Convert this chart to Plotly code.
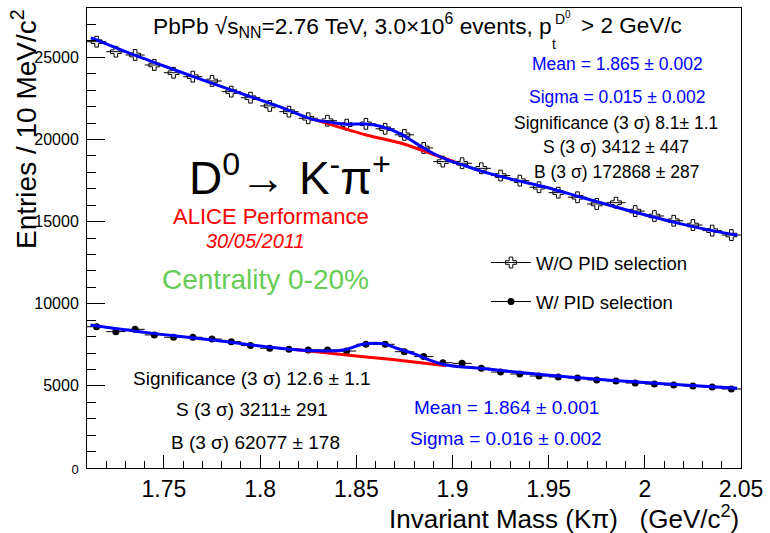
import plotly.graph_objects as go

# ---------------- data ----------------
bin_centers = [round(1.715 + 0.01 * i, 3) for i in range(34)]
half_bin = [0.005] * 34

wo_pid = [25950, 25340, 25140, 24530, 24060, 23820, 23560, 22910, 22540, 22040,
          21690, 21290, 21140, 20900, 20950, 20650, 20280, 19480, 18650, 18550,
          18240, 17800, 17490, 17090, 16760, 16480, 16070, 16150, 15640, 15340,
          15050, 14790, 14450, 14180]

w_pid = [8600, 8300, 8440, 8100, 7960, 7960, 7850, 7690, 7450, 7290,
         7230, 7180, 7180, 7120, 7530, 7530, 7080, 6780, 6410, 6370,
         6070, 5840, 5720, 5600, 5540, 5480, 5360, 5300, 5170, 5110,
         5050, 4990, 4930, 4810]

fit_top_x = [1.712, 1.73, 1.75, 1.77, 1.79, 1.81, 1.8275, 1.838, 1.845, 1.855, 1.862,
             1.8725, 1.8811, 1.8898, 1.8984, 1.907, 1.914, 1.931, 1.9486, 1.966,
             1.983, 2.0004, 2.0177, 2.035, 2.048]
fit_top_y = [26200, 25350, 24470, 23620, 22800, 22000, 21220, 21020, 20930, 20940, 20820,
             20370, 19760, 19160, 18710, 18380, 18100, 17570, 17090, 16510,
             15950, 15400, 14890, 14450, 14180]
bkg_top_x = [1.828, 1.8552, 1.8725, 1.8898, 1.902]
bkg_top_y = [21220, 20270, 19800, 19100, 18600]

fit_bot_x = [1.7118, 1.741, 1.7757, 1.8103, 1.8275, 1.8431, 1.8535, 1.864, 1.8708,
             1.8794, 1.8881, 1.8967, 1.914, 1.95, 2.0, 2.048]
fit_bot_y = [8700, 8240, 7790, 7290, 7140, 7180, 7530, 7560, 7290,
             6980, 6570, 6270, 6070, 5650, 5200, 4850]
bkg_bot_x = [1.817, 1.845, 1.862, 1.879, 1.8967]
bkg_bot_y = [7230, 6880, 6680, 6470, 6230]

x_range = [1.71, 2.05]
y_range = [0, 28000]
y_tickvals = [0, 5000, 10000, 15000, 20000, 25000]
y_ticktext = ['<span style="font-size:13px">0</span>', "5000", "10000", "15000", "20000", "25000"]

# ---------------- figure ----------------
W, H = 770, 533
L, R, T, B = 87, 29, 8, 65
PW, PH = W - L - R, H - T - B


def px(x):
    return (x - L) / PW


def py(y):
    return (H - B - y) / PH


FONT = "Liberation Sans, Arial, Helvetica, sans-serif"

fig = go.Figure()

fig.add_trace(go.Scatter(
    x=bin_centers, y=wo_pid, mode="markers", name="W/O PID selection",
    marker=dict(symbol="cross-open", size=9, color="black",
                line=dict(color="black", width=1)),
    error_x=dict(type="data", array=half_bin, color="black", thickness=1, width=0),
    showlegend=False))

fig.add_trace(go.Scatter(
    x=bin_centers, y=w_pid, mode="markers", name="W/ PID selection",
    marker=dict(symbol="circle", size=7, color="black"),
    error_x=dict(type="data", array=half_bin, color="black", thickness=1, width=0),
    showlegend=False))

fig.add_trace(go.Scatter(x=bkg_top_x, y=bkg_top_y, mode="lines", line=dict(color="red", width=3, shape="spline"), showlegend=False))
fig.add_trace(go.Scatter(x=fit_top_x, y=fit_top_y, mode="lines", line=dict(color="blue", width=3, shape="spline"), showlegend=False))
fig.add_trace(go.Scatter(x=bkg_bot_x, y=bkg_bot_y, mode="lines", line=dict(color="red", width=3, shape="spline"), showlegend=False))
fig.add_trace(go.Scatter(x=fit_bot_x, y=fit_bot_y, mode="lines", line=dict(color="blue", width=3, shape="spline"), showlegend=False))

# legend proxies
fig.add_trace(go.Scatter(x=[None], y=[None], mode="lines+markers", name="W/O PID selection",
                         marker=dict(symbol="cross-open", size=9, color="black", line=dict(color="black", width=1)),
                         line=dict(color="black", width=1), legend="legend"))
fig.add_trace(go.Scatter(x=[None], y=[None], mode="lines+markers", name="W/ PID selection",
                         marker=dict(symbol="circle", size=7, color="black"),
                         line=dict(color="black", width=1), legend="legend2"))

ann = []


def text(t, x, y, size, color="black", xanchor="center", yanchor="middle", angle=0, italic=False):
    ann.append(dict(text=t, x=px(x), y=py(y), xref="paper", yref="paper",
                    xanchor=xanchor, yanchor=yanchor, showarrow=False, textangle=angle,
                    borderpad=0,
                    font=dict(family=FONT, size=size, color=color,
                              style="italic" if italic else "normal")))


# title pieces (p_t^{D^0} stacked like ROOT)
text("PbPb √s<sub>NN</sub>=2.76 TeV, 3.0×10<sup>6</sup> events, p", 152, 25, 22.7, xanchor="left")
text("t", 551, 44, 14, xanchor="left")
text("D", 554, 19, 14, xanchor="left")
text("0", 564, 14, 10, xanchor="left")
text("> 2 GeV/c", 683, 25, 22.5, xanchor="right")

text("Mean = 1.865 ± 0.002", 617, 64, 17.5, color="blue")
text("Sigma = 0.015 ± 0.002", 617, 97, 17.5, color="blue")
text("Significance (3 σ) 8.1± 1.1", 616, 123, 17.5)
text("S (3 σ) 3412 ± 447", 616, 147, 17.5)
text("B (3 σ) 172868 ± 287", 616, 172, 17.5)
text("D<sup>0</sup>→ K<sup>-</sup>π<sup>+</sup>", 290, 175, 46)
text("ALICE Performance", 271, 216, 22, color="red")
text("30/05/2011", 255, 241, 20, color="red", italic=True)
text("Centrality 0-20%", 265, 280, 28, color="#66cc55")
text("Significance (3 σ) 12.6 ± 1.1", 252, 378, 19)
text("S (3 σ) 3211± 291", 252, 409, 19)
text("B (3 σ) 62077 ± 178", 255, 442, 19)
text("Mean = 1.864 ± 0.001", 506, 407, 19, color="blue")
text("Sigma = 0.016 ± 0.002", 506, 438, 19, color="blue")
text("Invariant Mass (Kπ)   (GeV/c<sup>2</sup>)", 740, 517, 26, xanchor="right")
text("Entries / 10 MeV/c<sup>2</sup>", 24, 8, 28, yanchor="top", angle=-90)

legend_common = dict(xanchor="left", yanchor="middle", bgcolor="rgba(0,0,0,0)",
                     font=dict(family=FONT, size=18.5, color="black"), itemwidth=40)

fig.update_layout(
    width=W, height=H,
    margin=dict(l=L, r=R, t=T, b=B, pad=0),
    paper_bgcolor="white", plot_bgcolor="white",
    font=dict(family=FONT, color="black"),
    annotations=ann,
    legend=dict(x=px(486), y=py(263), **legend_common),
    legend2=dict(x=px(486), y=py(302), **legend_common),
    xaxis=dict(range=x_range, showgrid=False, zeroline=False, showline=True, linecolor="black",
               linewidth=1, mirror=True, ticks="inside", ticklen=13, tickcolor="black",
               tick0=1.75, dtick=0.05, tickfont=dict(size=23, family=FONT),
               minor=dict(ticks="inside", ticklen=7, dtick=0.01, tick0=1.71, tickcolor="black", showgrid=False)),
    yaxis=dict(range=y_range, showgrid=False, zeroline=False, showline=True, linecolor="black",
               linewidth=1, mirror=True, ticks="inside", ticklen=18, tickcolor="black",
               tickmode="array", tickvals=y_tickvals, ticktext=y_ticktext,
               tickfont=dict(size=16, family=FONT), ticklabelstandoff=4,
               minor=dict(ticks="inside", ticklen=9, dtick=1000, tick0=0, tickcolor="black", showgrid=False)),
)

fig.write_html("out.html")
